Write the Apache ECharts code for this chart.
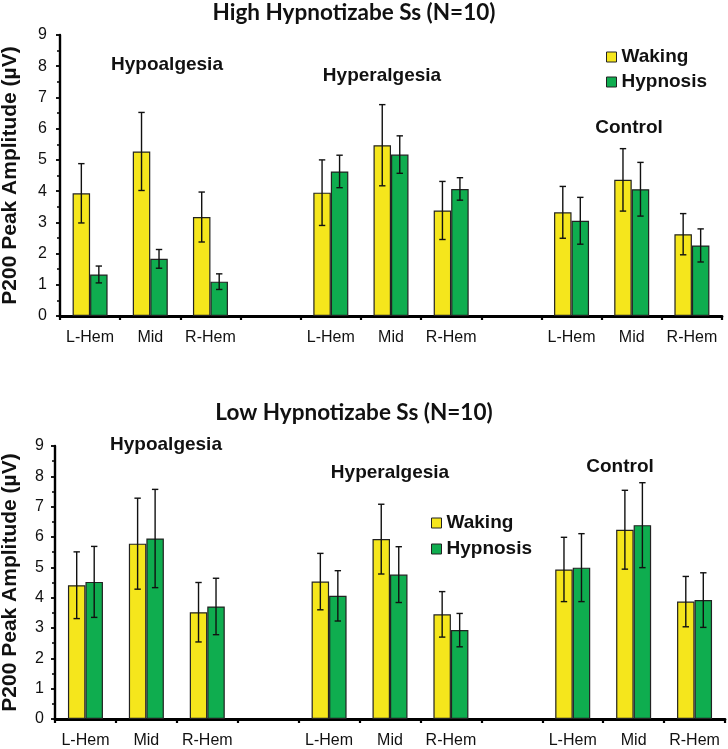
<!DOCTYPE html>
<html>
<head>
<meta charset="utf-8">
<script src="https://cdn.jsdelivr.net/npm/echarts@6/dist/echarts.min.js"></script>
<style>
html,body{margin:0;padding:0;background:#fff;}
#chart{width:728px;height:749px;}
</style>
</head>
<body>
<div id="chart"></div>
<script>
// ---- data ----
var categories = ['L-Hem','Mid','R-Hem','','L-Hem','Mid','R-Hem','','L-Hem','Mid','R-Hem'];
var yTicks = [0,1,2,3,4,5,6,7,8,9];
var seriesNames = ['Waking','Hypnosis'];
var groupLabels = ['Hypoalgesia','Hyperalgesia','Control'];
var panelTitles = ['High Hypnotizabe Ss (N=10)','Low Hypnotizabe Ss (N=10)'];
var yAxisTitle = 'P200 Peak Amplitude (\u00b5V)';

var highWaking      = [3.93, 5.27, 3.17, null, 3.95, 5.47, 3.38, null, 3.32, 4.36, 2.62];
var highWakingErr   = [0.95, 1.25, 0.80, null, 1.05, 1.30, 0.93, null, 0.83, 1.00, 0.66];
var highHypnosis    = [1.33, 1.83, 1.10, null, 4.63, 5.17, 4.07, null, 3.05, 4.06, 2.26];
var highHypnosisErr = [0.27, 0.30, 0.25, null, 0.52, 0.60, 0.36, null, 0.75, 0.86, 0.53];

var lowWaking       = [4.41, 5.78, 3.52, null, 4.53, 5.93, 3.45, null, 4.93, 6.24, 3.87];
var lowWakingErr    = [1.10, 1.50, 0.98, null, 0.93, 1.15, 0.75, null, 1.06, 1.30, 0.83];
var lowHypnosis     = [4.52, 5.95, 3.71, null, 4.06, 4.76, 2.93, null, 4.99, 6.39, 3.92];
var lowHypnosisErr  = [1.17, 1.62, 0.93, null, 0.83, 0.92, 0.55, null, 1.12, 1.40, 0.90];

// ---- styling ----
var YELLOW = '#f5e61c';
var GREEN = '#0fad4f';
var BAR_W = 17.5;
var ARIAL = '"Liberation Sans", Arial, sans-serif';

function errData(vals, errs){
  var out = [];
  for (var i = 0; i < vals.length; i++) {
    if (vals[i] != null) out.push([i, vals[i], errs[i]]);
  }
  return out;
}
function errSeries(idx, vals, errs, sign){
  return {
    type: 'custom', xAxisIndex: idx, yAxisIndex: idx, z: 10, silent: true,
    data: errData(vals, errs), encode: {x: 0, y: 1}, clip: false,
    renderItem: function(params, api){
      var x = api.value(0), v = api.value(1), e = api.value(2);
      var hi = api.coord([x, v + e]);
      var lo = api.coord([x, v - e]);
      var cx = hi[0] + sign * BAR_W / 2;
      var cap = 3.2;
      var st = {stroke: '#111', lineWidth: 1.4};
      return {type: 'group', children: [
        {type: 'line', shape: {x1: cx, y1: hi[1], x2: cx, y2: lo[1]}, style: st},
        {type: 'line', shape: {x1: cx - cap, y1: hi[1], x2: cx + cap, y2: hi[1]}, style: st},
        {type: 'line', shape: {x1: cx - cap, y1: lo[1], x2: cx + cap, y2: lo[1]}, style: st}
      ]};
    }
  };
}
function barSeries(idx, name, vals, color){
  return {
    type: 'bar', name: name, xAxisIndex: idx, yAxisIndex: idx,
    data: vals, barWidth: BAR_W, barGap: '0%',
    itemStyle: {color: color, borderColor: '#222', borderWidth: 1.2}
  };
}
function xAxis(idx){
  return {
    type: 'category', gridIndex: idx, data: categories,
    axisLine: {lineStyle: {color: '#000', width: 2.8}},
    axisTick: {show: true, alignWithLabel: false, length: 4, lineStyle: {color: '#000', width: 2.2}},
    axisLabel: {color: '#111', fontFamily: ARIAL, fontSize: 16, margin: 14, interval: 0},
    splitLine: {show: false}
  };
}
function yAxis(idx, gap, margin){
  return {
    type: 'value', gridIndex: idx, min: yTicks[0], max: yTicks[yTicks.length - 1], interval: 1,
    name: yAxisTitle, nameLocation: 'middle', nameGap: gap, nameRotate: 90,
    nameTextStyle: {fontFamily: ARIAL, fontWeight: 'bold', fontSize: 21, color: '#111'},
    axisLine: {show: true, lineStyle: {color: '#000', width: 2.4}},
    axisTick: {show: true, length: 4, lineStyle: {color: '#000', width: 1.8}},
    minorTick: {show: true, splitNumber: 2, length: 3, lineStyle: {color: '#000', width: 1.5}},
    axisLabel: {color: '#111', fontFamily: ARIAL, fontSize: 16, margin: margin},
    splitLine: {show: false}
  };
}
function txt(x, y, s, size, font){
  return {type: 'text', x: x, y: y, style: {text: s, fill: '#111', font: 'bold ' + size + 'px ' + font, textAlign: 'center', textVerticalAlign: 'middle'}};
}

var chart = echarts.init(document.getElementById('chart'), null, {renderer: 'canvas'});
var option = {
  animation: false,
  backgroundColor: '#fff',
  grid: [
    {left: 60, top: 35, width: 662, height: 281, containLabel: false, outerBoundsMode: 'none'},
    {left: 55, top: 446, width: 670, height: 273, containLabel: false, outerBoundsMode: 'none'}
  ],
  xAxis: [xAxis(0), xAxis(1)],
  yAxis: [yAxis(0, 39, 13), yAxis(1, 34, 11)],
  legend: [
    {data: seriesNames, orient: 'vertical', left: 601, top: 42, itemWidth: 10, itemHeight: 10, itemGap: 5,
     icon: 'rect', itemStyle: {borderColor: '#222', borderWidth: 1},
     textStyle: {fontFamily: ARIAL, fontWeight: 'bold', fontSize: 19, color: '#111', lineHeight: 20}},
    {data: seriesNames, orient: 'vertical', left: 426, top: 508, itemWidth: 10, itemHeight: 10, itemGap: 6,
     icon: 'rect', itemStyle: {borderColor: '#222', borderWidth: 1},
     textStyle: {fontFamily: ARIAL, fontWeight: 'bold', fontSize: 19, color: '#111', lineHeight: 20}}
  ],
  graphic: [
    txt(354, 13, panelTitles[0], 22.5, 'Lato, "Open Sans", sans-serif'),
    txt(354, 413, panelTitles[1], 22.5, 'Lato, "Open Sans", sans-serif'),
    txt(167, 65, groupLabels[0], 19, ARIAL),
    txt(382, 76, groupLabels[1], 19, ARIAL),
    txt(629, 128, groupLabels[2], 19, ARIAL),
    txt(166, 445, groupLabels[0], 19, ARIAL),
    txt(390, 473, groupLabels[1], 19, ARIAL),
    txt(620, 467, groupLabels[2], 19, ARIAL)
  ],
  series: [
    barSeries(0, seriesNames[0], highWaking, YELLOW),
    barSeries(0, seriesNames[1], highHypnosis, GREEN),
    barSeries(1, seriesNames[0], lowWaking, YELLOW),
    barSeries(1, seriesNames[1], lowHypnosis, GREEN),
    errSeries(0, highWaking, highWakingErr, -1),
    errSeries(0, highHypnosis, highHypnosisErr, 1),
    errSeries(1, lowWaking, lowWakingErr, -1),
    errSeries(1, lowHypnosis, lowHypnosisErr, 1)
  ]
};
chart.setOption(option);
</script>
</body>
</html>
